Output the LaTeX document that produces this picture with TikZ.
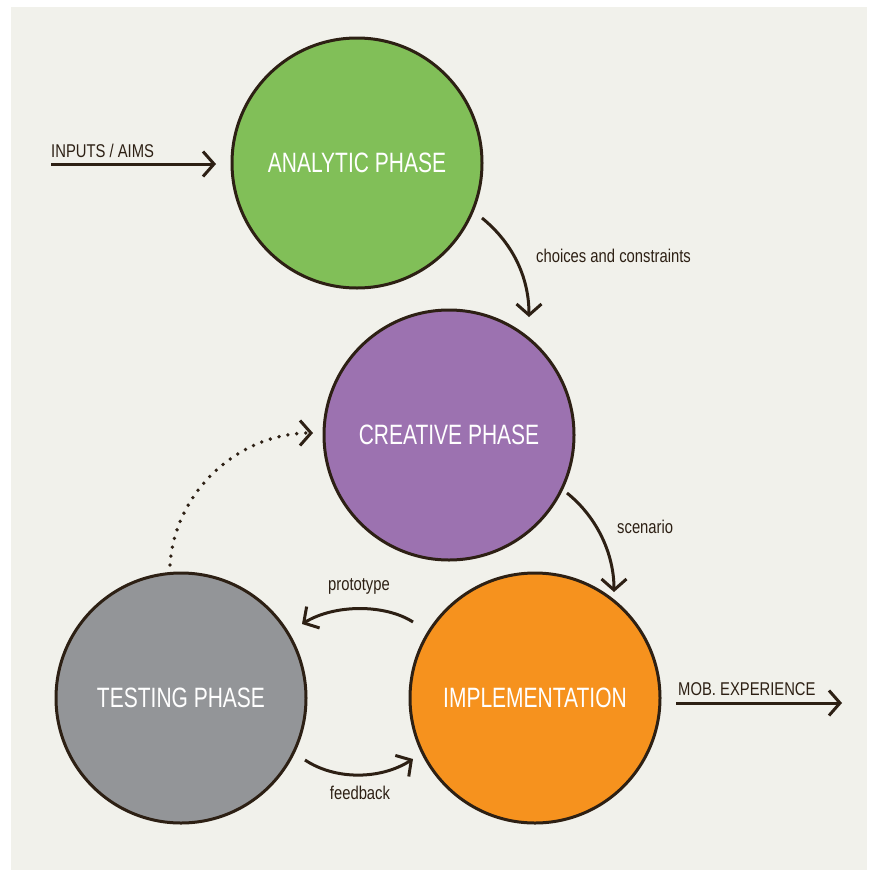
\documentclass[tikz,border=0pt]{standalone}
\usepackage{fontspec}
\setmainfont[FakeStretch=0.8]{Liberation Sans}
\newfontfamily\phasefont[FakeStretch=0.75]{Liberation Sans}
\usetikzlibrary{arrows.meta,calc}
\definecolor{panel}{HTML}{F1F1EB}
\definecolor{ink}{HTML}{2D2014}
\definecolor{phgreen}{HTML}{81BF58}
\definecolor{phpurple}{HTML}{9C72B0}
\definecolor{phorange}{HTML}{F6921E}
\definecolor{phgray}{HTML}{939598}
\begin{document}
\begin{tikzpicture}[x=1pt,y=-1pt,
  phase/.style={circle,draw=ink,line width=3pt,minimum size=250pt,inner sep=0pt,
    text=white,font=\phasefont\fontsize{28}{30}\selectfont},
  lbl/.style={inner sep=0pt,text=ink,font=\fontsize{18.5}{20}\selectfont},
  flow/.style={draw=ink,line width=3pt,-{Straight Barb[length=11pt,width=25pt,line width=3pt]}},
  dots/.style={flow,line cap=round,dash pattern=on 0pt off 9pt,line width=3.8pt}]
\useasboundingbox (0,0) rectangle (873,873);
\fill[white] (0,0) rectangle (873,873);
\fill[panel] (11,7) rectangle (867,870);

% the four phases
\node[phase,fill=phgreen]  (analytic) at (357,163) {ANALYTIC PHASE};
\node[phase,fill=phpurple] (creative) at (449,435) {CREATIVE PHASE};
\node[phase,fill=phorange] (impl)     at (535,698) {IMPLEMENTATION};
\node[phase,fill=phgray]   (testing)  at (181,698) {TESTING PHASE};

% free ends of the in/out arrows
\coordinate (inStart)  at (51,164);
\coordinate (outEnd)   at (842,703);

% labels
\node[lbl,anchor=west] (inLbl)  at (51,151)  {INPUTS / AIMS};
\node[lbl,anchor=west] (outLbl) at (678,689) {MOB. EXPERIENCE};
\node[lbl,anchor=west] (choLbl) at (536,256) {choices and constraints};
\node[lbl,anchor=west] (scnLbl) at (617,527) {scenario};
\node[lbl] (proLbl) at (359,586) {prototype};
\node[lbl] (fbLbl)  at (360,793) {feedback};

% connectors
\draw[flow] (inStart) -- ($(analytic.center)+(-141,1)$);
\draw[flow] ($(impl.center)+(141,5)$) -- (outEnd);
\draw[flow] ($(analytic.center)+(125,55)$)
  .. controls ($(analytic.center)+(158,82)$) and ($(creative.center)+(80,-155)$)
  .. ($(creative.center)+(80,-118)$);
\draw[flow] ($(creative.center)+(118,58)$)
  .. controls ($(creative.center)+(149,83)$) and ($(impl.center)+(79,-143)$)
  .. ($(impl.center)+(79,-106)$);
\draw[flow] ($(impl.center)+(-122,-76)$)
  .. controls ($(impl.center)+(-150,-94)$) and ($(testing.center)+(154,-94)$)
  .. ($(testing.center)+(121,-74)$);
\draw[flow] ($(testing.center)+(124,62)$)
  .. controls ($(testing.center)+(154,82)$) and ($(impl.center)+(-155,82)$)
  .. ($(impl.center)+(-122,61)$);
\draw[dots] ($(testing.center)+(-11,-133)$)
  .. controls ($(testing.center)+(-6,-208)$) and ($(creative.center)+(-209,-2)$)
  .. ($(creative.center)+(-136,-2)$);
\end{tikzpicture}
\end{document}
